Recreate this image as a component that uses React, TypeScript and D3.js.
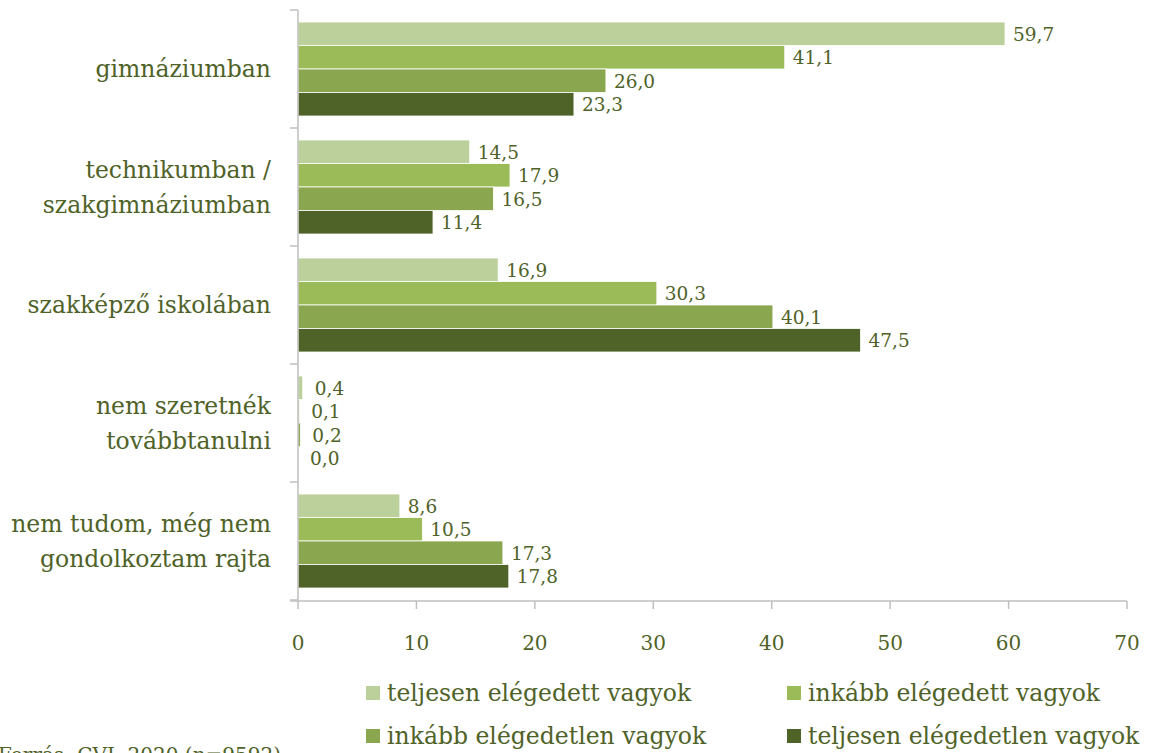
import React from "react";
import * as d3 from "d3";

const categories: string[][] = [
  ["gimnáziumban"],
  ["technikumban /", "szakgimnáziumban"],
  ["szakképző iskolában"],
  ["nem szeretnék", "továbbtanulni"],
  ["nem tudom, még nem", "gondolkoztam rajta"],
];
const seriesNames = [
  "teljesen elégedett vagyok",
  "inkább elégedett vagyok",
  "inkább elégedetlen vagyok",
  "teljesen elégedetlen vagyok",
];
const teljesenElegedett = [59.7, 14.5, 16.9, 0.4, 8.6];
const inkabbElegedett = [41.1, 17.9, 30.3, 0.1, 10.5];
const inkabbElegedetlen = [26.0, 16.5, 40.1, 0.2, 17.3];
const teljesenElegedetlen = [23.3, 11.4, 47.5, 0.0, 17.8];
const xTicks = [0, 10, 20, 30, 40, 50, 60, 70];
const colors = ["#bcd09b", "#9bbb59", "#8aa64e", "#4f6228"];
const source = "Forrás: CVI, 2020 (n=9592)";

const series = [teljesenElegedett, inkabbElegedett, inkabbElegedetlen, teljesenElegedetlen];
const FONT = "'DejaVu Serif', serif";
const TEXT = "#4f6228";
const AXIS = "#bfbfbf";

export default function App() {
  const W = 1151, H = 753;
  const x = d3.scaleLinear().domain([0, 70]).range([298, 1127]);
  const y = d3.scaleBand<number>().domain(d3.range(categories.length)).range([10, 600]);
  const inner = d3.scaleBand<number>().domain(d3.range(4)).range([12, y.bandwidth() - 12]);
  const fmt = (v: number) => v.toFixed(1).replace(".", ",");

  return (
    <svg width={W} height={H} style={{ position: "absolute", left: 0, top: 0, background: "#fff" }}>
      {categories.map((cat, i) => {
        const y0 = y(i)!;
        return (
          <g key={i}>
            {series.map((s, j) => {
              const by = y0 + inner(j)!;
              const w = x(s[i]) - x(0);
              return (
                <g key={j}>
                  <rect x={x(0)} y={by} width={Math.max(w, 0)} height={inner.bandwidth()} fill={colors[j]} stroke="#fff" strokeWidth={0.8} />
                  <text x={x(s[i]) + (s[i] < 1 ? 12 : 8)} y={by + inner.bandwidth() / 2 + 7} fontFamily={FONT} fontSize={18.5} fill={TEXT}>
                    {fmt(s[i])}
                  </text>
                </g>
              );
            })}
            {cat.map((line, k) => (
              <text key={k} x={271} y={y0 + y.bandwidth() / 2 + 8 + (k - (cat.length - 1) / 2) * 35} textAnchor="end" fontFamily={FONT} fontSize={23.5} fill={TEXT}>
                {line}
              </text>
            ))}
          </g>
        );
      })}
      {/* y axis */}
      <line x1={298} x2={298} y1={10} y2={601} stroke={AXIS} strokeWidth={1.5} />
      {d3.range(categories.length + 1).map((i) => {
        const yy = i < categories.length ? y(i)! : 600;
        return <line key={i} x1={290} x2={298} y1={yy} y2={yy} stroke={AXIS} strokeWidth={1.5} />;
      })}
      {/* x axis */}
      <line x1={290} x2={1127} y1={601} y2={601} stroke={AXIS} strokeWidth={1.5} />
      {xTicks.map((t) => (
        <g key={t}>
          <line x1={x(t)} x2={x(t)} y1={601} y2={609} stroke={AXIS} strokeWidth={1.5} />
          <text x={x(t)} y={650} textAnchor="middle" fontFamily={FONT} fontSize={20} fill={TEXT}>
            {t}
          </text>
        </g>
      ))}
      {/* legend */}
      {seriesNames.map((n, j) => {
        const col = j % 2, row = Math.floor(j / 2);
        const lx = col === 0 ? 366 : 787;
        const ly = 693 + row * 43;
        return (
          <g key={j}>
            <rect x={lx} y={ly - 7} width={14} height={14} fill={colors[j]} />
            <text x={lx + 21} y={ly + 8} fontFamily={FONT} fontSize={23.5} fill={TEXT}>
              {n}
            </text>
          </g>
        );
      })}
      <text x={-2} y={762} fontFamily={FONT} fontSize={20} fill={TEXT}>
        {source}
      </text>
    </svg>
  );
}
